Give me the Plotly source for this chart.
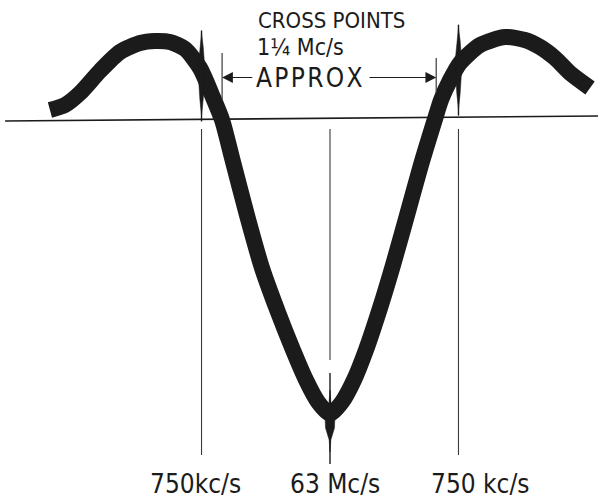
import numpy as np
import plotly.graph_objects as go

# Discriminator response trace (frequency in Mc/s, response in arbitrary units, 0 = baseline)
freq_mcs = [61.365, 61.453, 61.541, 61.657, 61.774, 61.891, 61.978, 62.066, 62.154,
            62.241, 62.311, 62.370, 62.428, 62.515, 62.603, 62.696, 62.784, 62.860,
            62.930, 63.000, 63.070, 63.140, 63.210, 63.292, 63.368, 63.450, 63.531,
            63.613, 63.648, 63.701, 63.759, 63.876, 64.022, 64.138, 64.226, 64.313,
            64.401, 64.518]
response = [0.10, 0.15, 0.27, 0.49, 0.68, 0.77, 0.79, 0.78, 0.71,
            0.52, 0.25, 0.00, -0.38, -0.95, -1.48, -1.92, -2.30, -2.60,
            -2.82, -2.94, -2.82, -2.60, -2.30, -1.88, -1.45, -0.95, -0.45,
            0.01, 0.20, 0.40, 0.57, 0.75, 0.83, 0.80, 0.73, 0.62,
            0.47, 0.32]

# Frequency markers and their labels
marker_freqs = [62.25, 63.00, 63.75]
marker_labels = ["750kc/s", "63 Mc/s", "750 kc/s"]
label_offsets = [-0.038, 0.029, 0.131]  # label centre relative to marker, Mc/s

# Zero-crossing points of the response
cross_points = [62.37, 63.62]
cross_text = ["CROSS POINTS", "1¼ Mc/s", "A\u200aP\u200aP\u200aR\u200aO\u200aX"]

# Baseline end points
baseline_f = [61.103, 64.565]
baseline_y = [-0.01, 0.04]

X_RANGE = [61.0735, 64.5645]
Y_RANGE = [-3.80, 1.20]
W, H = 598, 500
PX_PER_MC = W / (X_RANGE[1] - X_RANGE[0])

INK = "#1b1b1b"
THIN = "#3a3a3a"
FONT = "Liberation Sans Narrow, DejaVu Sans Condensed, Arial Narrow, sans-serif"

fig = go.Figure()

# baseline
fig.add_trace(go.Scatter(x=baseline_f, y=baseline_y, mode="lines",
                         line=dict(color=INK, width=1.6), hoverinfo="skip"))

curve_at = lambda f: float(np.interp(f, freq_mcs, response))

# marker lines below the baseline
for i, f in enumerate(marker_freqs):
    y_end = -2.40 if i == 1 else -3.35
    fig.add_trace(go.Scatter(x=[f, f], y=[-0.09, y_end], mode="lines",
                             line=dict(color=THIN, width=1.1), hoverinfo="skip"))

# the response trace itself
fig.add_trace(go.Scatter(x=freq_mcs, y=response, mode="lines",
                         line=dict(color=INK, width=16, shape="spline", smoothing=0.7),
                         hoverinfo="skip"))

# marker pips where the trace crosses each marker frequency
hw = 2.8 / PX_PER_MC
for i, f in enumerate(marker_freqs):
    c = curve_at(f)
    up, down = 0.41, 0.50
    fig.add_trace(go.Scatter(x=[f, f], y=[c + up, c - down], mode="lines",
                             line=dict(color=INK, width=1.4), hoverinfo="skip"))
    if i == 1:
        px = [f, f + hw * 0.4, f + hw * 1.8, f + hw * 1.6, f + hw * 0.3, f,
              f - hw * 0.3, f - hw * 1.6, f - hw * 1.8, f - hw * 0.4, f]
        py = [c + 0.24, c + 0.10, c, c - 0.14, c - 0.26, c - 0.38,
              c - 0.26, c - 0.14, c, c + 0.10, c + 0.24]
    else:
        px = [f, f + hw * 0.6, f + hw, f + hw, f + hw * 0.6, f,
              f - hw * 0.6, f - hw, f - hw, f - hw * 0.6, f]
        py = [c + 0.38, c + 0.25, c + 0.10, c - 0.10, c - 0.28, c - 0.44,
              c - 0.28, c - 0.10, c + 0.10, c + 0.25, c + 0.38]
    fig.add_trace(go.Scatter(x=px, y=py, mode="lines", fill="toself",
                             fillcolor=INK, line=dict(color=INK, width=0.5),
                             hoverinfo="skip"))

# cross-point tick lines
cross_tops = [0.67, 0.62]
cross_bottoms = [0.20, 0.27]
for f, t, b in zip(cross_points, cross_tops, cross_bottoms):
    fig.add_trace(go.Scatter(x=[f, f], y=[t, b], mode="lines",
                             line=dict(color=THIN, width=1.2), hoverinfo="skip"))

annotations = []
# arrows pointing to the cross points
arrow_y = 0.425
arrow_tails = [62.555, 63.222]
for f, tail in zip(cross_points, arrow_tails):
    annotations.append(dict(x=f, y=arrow_y, ax=tail, ay=arrow_y, xref="x", yref="y",
                            axref="x", ayref="y", text="", showarrow=True,
                            arrowhead=2, arrowsize=1.8, arrowwidth=1.2,
                            arrowcolor=INK, standoff=0))

# cross points caption
annotations.append(dict(x=63.009, y=1.0, text=cross_text[0], showarrow=False,
                        xanchor="center", yanchor="middle",
                        font=dict(family=FONT, size=22, color=INK)))
annotations.append(dict(x=62.560, y=0.73, text=cross_text[1], showarrow=False,
                        xanchor="left", yanchor="middle",
                        font=dict(family=FONT, size=23, color=INK)))
annotations.append(dict(x=62.883, y=0.42, text=cross_text[2], showarrow=False,
                        xanchor="center", yanchor="middle",
                        font=dict(family=FONT, size=26, color=INK)))

# marker labels
for f, lab, off in zip(marker_freqs, marker_labels, label_offsets):
    annotations.append(dict(x=f + off, y=-3.64, text=lab, showarrow=False,
                            xanchor="center", yanchor="middle",
                            font=dict(family=FONT, size=26, color=INK)))

fig.update_layout(
    width=W, height=H,
    margin=dict(l=0, r=0, t=0, b=0),
    paper_bgcolor="white", plot_bgcolor="white",
    showlegend=False,
    xaxis=dict(range=X_RANGE, visible=False, fixedrange=True),
    yaxis=dict(range=Y_RANGE, visible=False, fixedrange=True),
    annotations=annotations,
)

fig.write_html("out.html")
